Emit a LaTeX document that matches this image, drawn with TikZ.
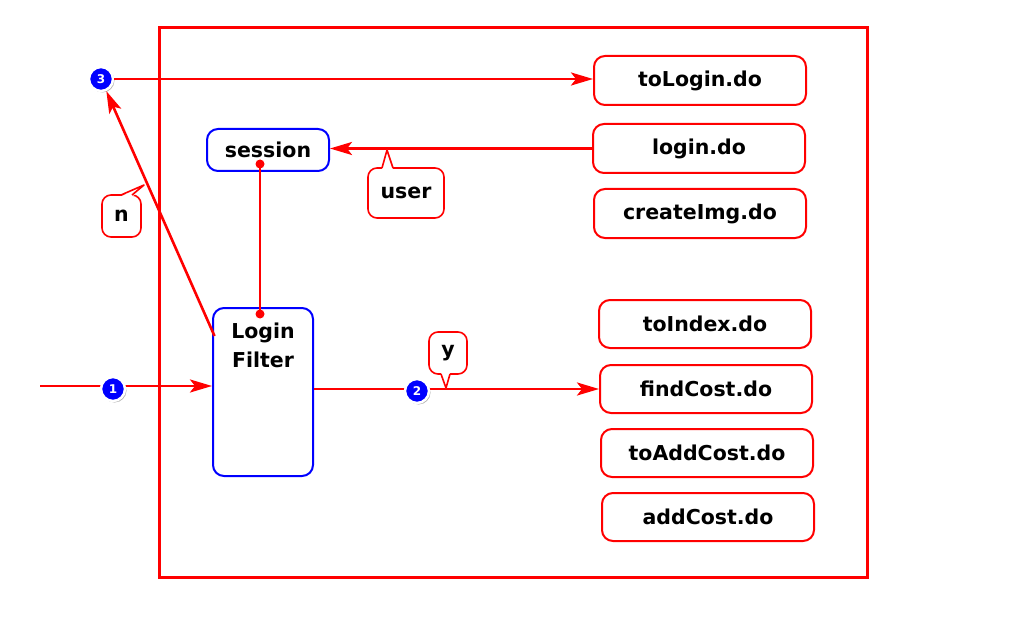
\documentclass[tikz,border=0pt]{standalone}
\usepackage{fontspec}
\setmainfont{DejaVu Sans}
\usetikzlibrary{arrows.meta,shadows}
\tikzset{
  lbl/.style={font=\bfseries\fontsize{20.5}{29}\selectfont},
  rbox/.style={lbl,draw=red,line width=2pt,rounded corners=11pt,minimum width=212pt,minimum height=49pt,inner sep=0pt,fill=white},
  bbox/.style={lbl,draw=blue,line width=2pt,rounded corners=11pt,inner sep=0pt},
  conn/.style={draw=red,line width=2.6pt},
  arr/.style={conn,-{Stealth[length=22pt,width=13pt,inset=5pt]}},
  num/.style={circle,fill=blue,draw=white,line width=2.5pt,minimum size=24pt,inner sep=0pt,text=white,font=\bfseries\fontsize{12}{12}\selectfont,drop shadow={shadow xshift=1.5pt,shadow yshift=-1.5pt,fill=black!50,opacity=0.6}},
  callout/.style={lbl,draw=red,line width=1.6pt,rounded corners=9pt,inner sep=0pt,fill=white},
  dotc/.style={circle,fill=red,inner sep=0pt,minimum size=9pt}
}
\begin{document}
\begin{tikzpicture}[x=1pt,y=-1pt]
\useasboundingbox (0,0) rectangle (1024,620);
% frame
\draw[red,line width=3pt] (159,28) rectangle (867,577);
% boxes
\node[rbox] (tologin) at (700,80.5) {toLogin.do};
\node[rbox] (login) at (699,148.5) {login.do};
\node[rbox] (createimg) at (700,213.5) {createImg.do};
\node[rbox,minimum height=48pt] (toindex) at (705,324) {toIndex.do};
\node[rbox,minimum height=48pt] (findcost) at (706,389) {findCost.do};
\node[rbox,minimum height=48pt] (toaddcost) at (707,453) {toAddCost.do};
\node[rbox,minimum height=48pt] (addcost) at (708,517) {addCost.do};
\node[bbox,minimum width=122pt,minimum height=42pt] (session) at (268,150) {session};
\node[bbox,minimum width=100pt,minimum height=168pt] (filter) at (263,392) {};
\node[lbl,align=center,inner sep=0pt] (filtertext) at (263,345) {Login\\Filter};
% numbered circles
\node[num] (c3) at (101,79) {3};
% coordinates
\coordinate (sdot) at (260,164);
\coordinate (fdot) at (260,314);
\coordinate (fl) at (214.5,336);
\coordinate (start) at (40,386);
% connectors
\draw[arr] (c3) -- (tologin.west |- c3);
\draw[arr] (login.west) -- (session.east |- login.west);
\draw[conn] (sdot) -- (fdot);
\node[dotc] at (sdot) {};
\node[dotc] at (fdot) {};
\draw[arr] (fl) -- (c3);
\draw[arr] (start) -- (start -| filter.west);
\draw[arr] (findcost.west -| filter.east) -- (findcost.west);
\node[num] (c1) at (113,389) {1};
\node[num] (c2) at (417,391) {2};
% callouts
\node[callout,minimum width=76pt,minimum height=50pt] (user) at (406,193) {user};
\filldraw[white] (382,169.5) -- (387,150) -- (393,169.5) -- cycle;
\draw[red,line width=1.6pt,line join=round] (382,168) -- (387,150) -- (393,168);
\node[callout,minimum width=39pt,minimum height=42pt] (ncall) at (121.5,216) {n};
\filldraw[white] (121,196.5) -- (144,185) -- (132,196.5) -- cycle;
\draw[red,line width=1.6pt,line join=round] (121,195) -- (144,185) -- (132,195);
\node[callout,minimum width=38pt,minimum height=42pt] (ycall) at (448,353) {y};
\filldraw[white] (441,372.5) -- (446,388) -- (450,372.5) -- cycle;
\draw[red,line width=1.6pt,line join=round] (441,374) -- (446,388) -- (450,374);
\end{tikzpicture}
\end{document}
